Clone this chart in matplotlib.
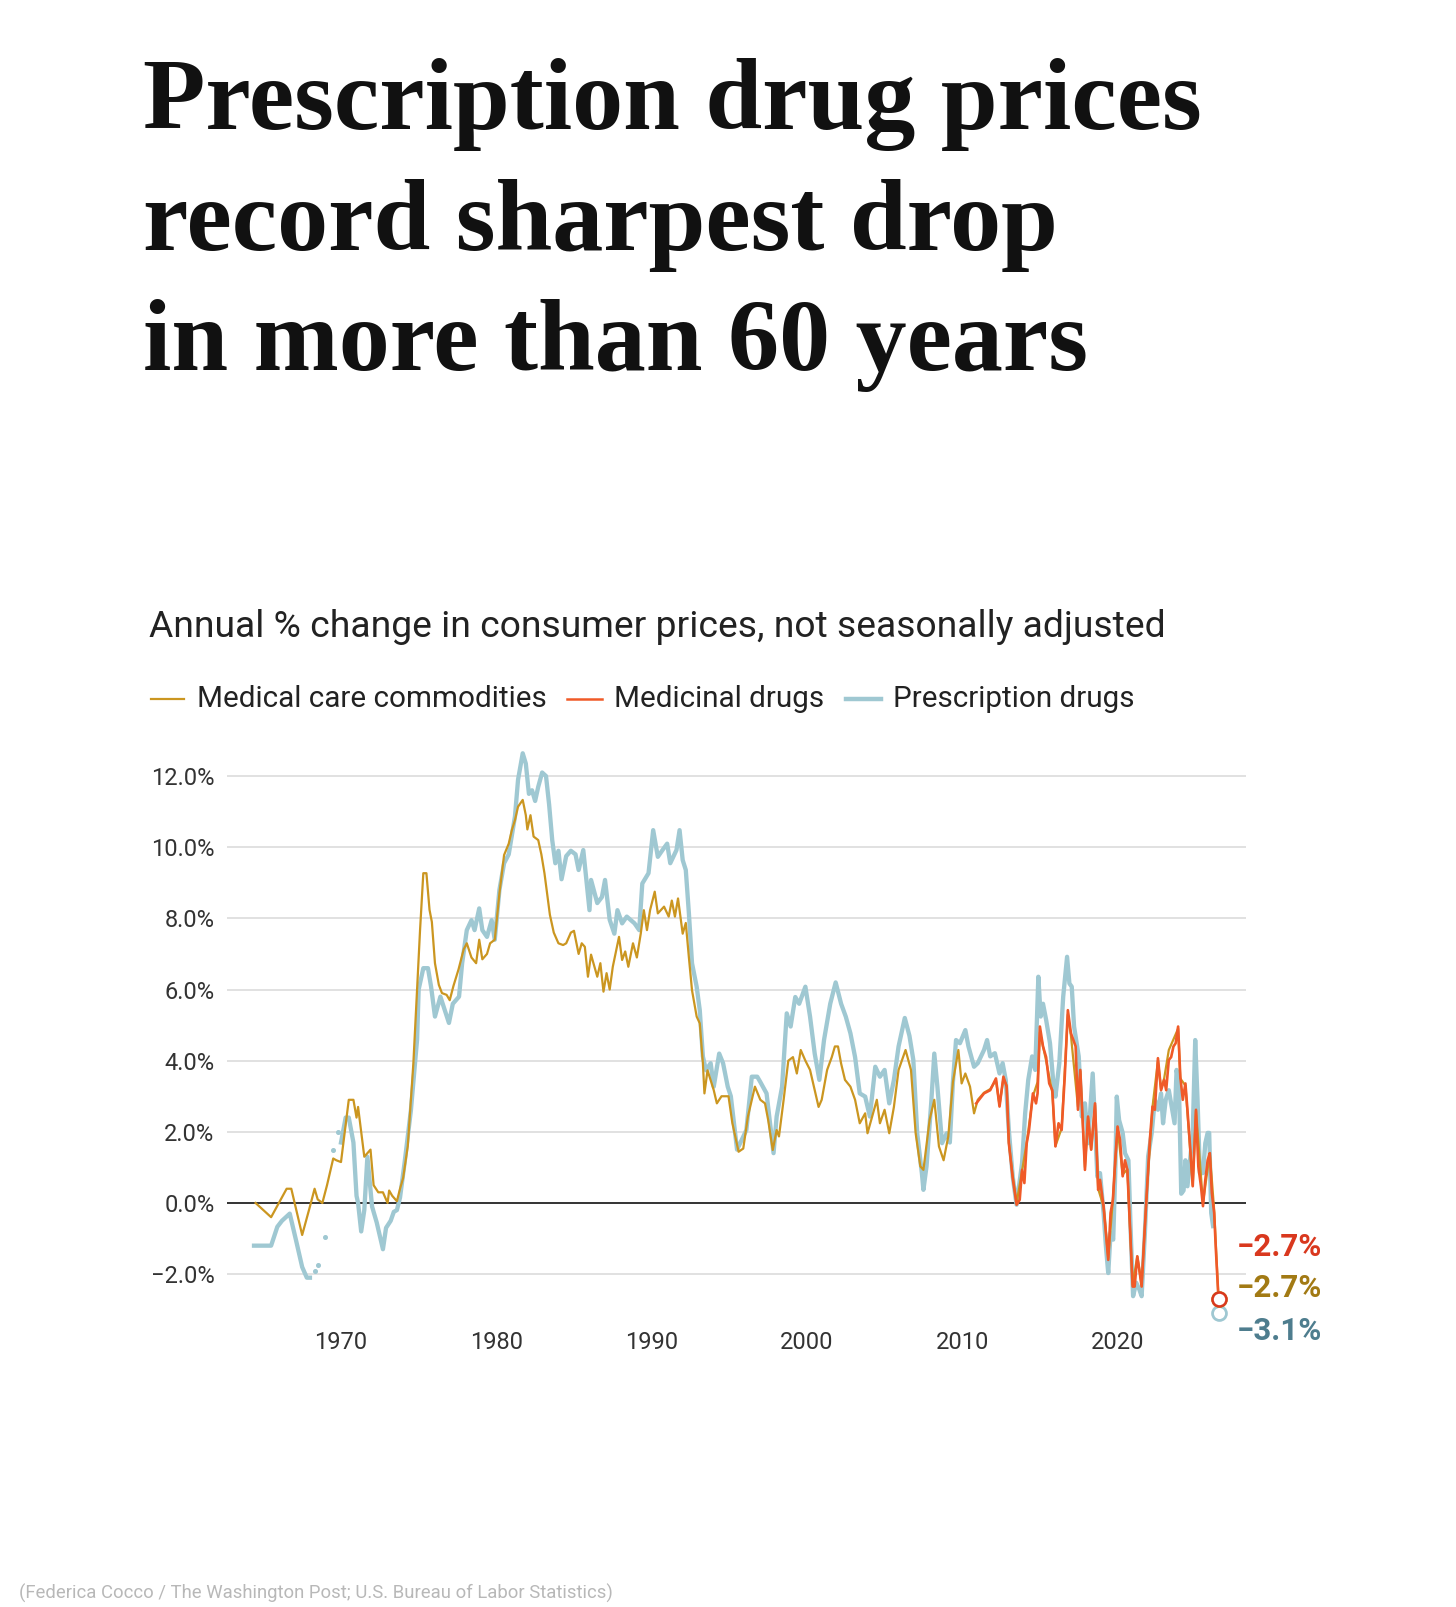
import numpy as np
import matplotlib
matplotlib.use("Agg")
import matplotlib.pyplot as plt
from matplotlib.lines import Line2D

# ---------------- data ----------------
rx_years = [1964.4, 1965.5, 1965.9, 1966.2, 1966.7, 1967.1, 1967.5, 1967.8, 1968.0, np.nan,
            1968.3, np.nan, 1968.5, np.nan, 1969.0, np.nan, 1969.5, np.nan, 1969.8, np.nan,
            1970.0, 1970.3, 1970.5, 1970.8, 1971.0, 1971.1, 1971.3, 1971.5, 1971.7, 1972.0,
            1972.3, 1972.7, 1972.9, 1973.2, 1973.4, 1973.6, 1973.8, 1974.1, 1974.5, 1974.9,
            1975.0, 1975.3, 1975.6, 1975.8, 1976.05, 1976.4, 1976.7, 1976.95, 1977.2, 1977.6,
            1977.8, 1978.1, 1978.4, 1978.6, 1978.9, 1979.1, 1979.4, 1979.7, 1979.9, 1980.2,
            1980.5, 1980.8, 1981.2, 1981.4, 1981.7, 1981.9, 1982.1, 1982.3, 1982.5, 1982.7,
            1982.95, 1983.2, 1983.4, 1983.6, 1983.8, 1984.0, 1984.2, 1984.5, 1984.8, 1985.1,
            1985.3, 1985.6, 1986.0, 1986.1, 1986.5, 1986.8, 1987.0, 1987.3, 1987.6, 1987.8,
            1988.1, 1988.4, 1988.9, 1989.2, 1989.4, 1989.8, 1990.1, 1990.4, 1990.7, 1991.0,
            1991.2, 1991.6, 1991.8, 1992.0, 1992.2, 1992.4, 1992.6, 1992.9, 1993.1, 1993.3,
            1993.5, 1993.8, 1994.0, 1994.35, 1994.6, 1994.9, 1995.1, 1995.5, 1995.7, 1996.1,
            1996.45, 1996.8, 1997.0, 1997.4, 1997.85, 1998.05, 1998.4, 1998.7, 1998.95, 1999.25,
            1999.5, 1999.9, 2000.2, 2000.5, 2000.8, 2001.1, 2001.5, 2001.85, 2002.2, 2002.5,
            2002.8, 2003.1, 2003.4, 2003.75, 2004.05, 2004.4, 2004.7, 2005.0, 2005.3, 2005.6,
            2005.9, 2006.3, 2006.6, 2006.85, 2007.1, 2007.4, 2007.5, 2007.7, 2008.0, 2008.2,
            2008.4, 2008.7, 2009.0, 2009.2, 2009.4, 2009.6, 2009.85, 2010.2, 2010.4, 2010.76,
            2011.0, 2011.4, 2011.6, 2011.8, 2012.1, 2012.4, 2012.6, 2012.8, 2013.0, 2013.25,
            2013.5, 2013.85, 2014.05, 2014.25, 2014.5, 2014.7, 2014.9, 2015.05, 2015.2, 2015.4,
            2015.65, 2015.85, 2016.0, 2016.25, 2016.5, 2016.75, 2016.9, 2017.05, 2017.2, 2017.5,
            2017.7, 2017.9, 2018.1, 2018.4, 2018.7, 2018.87, 2019.1, 2019.25, 2019.4, 2019.55,
            2019.72, 2019.85, 2019.95, 2020.1, 2020.33, 2020.48, 2020.7, 2020.85, 2021.0, 2021.2,
            2021.4, 2021.55, 2021.76, 2021.97, 2022.2, 2022.4, 2022.6, 2022.8, 2022.93, 2023.1,
            2023.3, 2023.45, 2023.67, 2023.8, 2023.95, 2024.1, 2024.25, 2024.37, 2024.5, 2024.67,
            2024.84, 2025.0, 2025.15, 2025.3, 2025.5, 2025.65, 2025.8, 2025.9, 2026.03, 2026.15,
            np.nan, 2026.5]
rx_values = [-1.2, -1.2, -0.67, -0.5, -0.3, -1.04, -1.8, -2.1, -2.1, np.nan,
             -1.9, np.nan, -1.75, np.nan, -0.95, np.nan, 1.5, np.nan, 2.0, np.nan,
             1.7, 2.4, 2.4, 1.7, 0.2, 0.0, -0.8, -0.2, 1.3, -0.1,
             -0.55, -1.3, -0.7, -0.5, -0.25, -0.2, 0.15, 1.15, 2.6, 4.6,
             6.0, 6.6, 6.6, 6.08, 5.24, 5.8, 5.4, 5.06, 5.6, 5.8,
             6.74, 7.67, 7.95, 7.67, 8.28, 7.67, 7.48, 7.95, 7.4, 8.8,
             9.55, 9.8, 10.86, 11.9, 12.64, 12.35, 11.5, 11.6, 11.3, 11.7,
             12.1, 12.0, 11.2, 10.2, 9.55, 9.9, 9.1, 9.75, 9.9, 9.8,
             9.36, 9.92, 8.23, 9.08, 8.43, 8.6, 9.08, 7.96, 7.57, 8.23,
             7.86, 8.05, 7.86, 7.67, 8.98, 9.27, 10.48, 9.73, 9.92, 10.1,
             9.55, 9.92, 10.48, 9.64, 9.36, 8.14, 6.74, 6.08, 5.42, 4.12,
             3.73, 3.93, 3.27, 4.2, 3.93, 3.27, 3.0, 1.5, 1.68, 2.05,
             3.55, 3.55, 3.4, 3.08, 1.4, 2.43, 3.27, 5.33, 4.96, 5.79,
             5.6, 6.08, 5.24, 4.2, 3.46, 4.58, 5.6, 6.2, 5.6, 5.24,
             4.77, 4.1, 3.08, 2.99, 2.43, 3.83, 3.55, 3.74, 2.8, 3.46,
             4.4, 5.2, 4.7, 4.02, 1.96, 0.84, 0.37, 1.03, 2.8, 4.2,
             3.27, 1.68, 1.96, 1.7, 3.4, 4.58, 4.49, 4.86, 4.4, 3.83,
             3.93, 4.3, 4.58, 4.12, 4.21, 3.64, 3.93, 3.46, 2.05, 0.74,
             -0.05, 1.12, 2.52, 3.46, 4.12, 3.74, 6.36, 5.24, 5.6, 5.15,
             4.49, 3.46, 2.99, 3.93, 5.8, 6.92, 6.17, 6.08, 4.96, 4.12,
             2.43, 2.8, 1.68, 3.64, 0.74, 0.84, -0.28, -1.22, -1.97, -0.84,
             -1.03, 0.84, 2.99, 2.33, 1.97, 1.4, 1.2, -0.84, -2.62, -2.24,
             -2.43, -2.62, -0.84, 1.31, 1.97, 2.9, 2.62, 3.08, 2.24, 2.9,
             3.17, 2.8, 2.24, 3.74, 3.36, 0.26, 0.35, 1.2, 0.47, 1.2,
             1.97, 4.58, 2.9, 0.84, 0.84, 1.68, 1.97, 1.97, -0.28, -0.65,
             np.nan, -3.1]

mcc_years = [1964.5, 1965.5, 1966.5, 1966.8, 1967.5, 1968.0, 1968.3, 1968.5, 1968.8, 1969.1,
             1969.5, 1969.7, 1970.0, 1970.5, 1970.8, 1971.0, 1971.1, 1971.5, 1971.9, 1972.1,
             1972.4, 1972.7, 1973.0, 1973.1, 1973.3, 1973.6, 1973.8, 1974.0, 1974.3, 1974.66,
             1975.09, 1975.3, 1975.5, 1975.7, 1975.85, 1976.05, 1976.3, 1976.5, 1976.8, 1977.0,
             1977.24, 1977.57, 1977.9, 1978.1, 1978.4, 1978.7, 1978.9, 1979.1, 1979.4, 1979.6,
             1979.9, 1980.2, 1980.5, 1980.8, 1981.0, 1981.2, 1981.4, 1981.7, 1981.9, 1982.0,
             1982.2, 1982.4, 1982.7, 1982.9, 1983.1, 1983.45, 1983.7, 1984.0, 1984.3, 1984.5,
             1984.8, 1985.0, 1985.3, 1985.5, 1985.7, 1985.9, 1986.1, 1986.5, 1986.7, 1986.9,
             1987.1, 1987.3, 1987.5, 1987.9, 1988.1, 1988.3, 1988.5, 1988.8, 1989.05, 1989.3,
             1989.5, 1989.7, 1989.9, 1990.2, 1990.4, 1990.8, 1991.1, 1991.3, 1991.5, 1991.7,
             1992.0, 1992.2, 1992.4, 1992.6, 1992.9, 1993.1, 1993.3, 1993.4, 1993.6, 1994.0,
             1994.2, 1994.5, 1994.95, 1995.2, 1995.6, 1995.9, 1996.2, 1996.65, 1997.0, 1997.3,
             1997.5, 1997.8, 1998.05, 1998.2, 1998.5, 1998.8, 1999.1, 1999.35, 1999.6, 1999.9,
             2000.2, 2000.4, 2000.75, 2000.95, 2001.3, 2001.6, 2001.8, 2002.0, 2002.2, 2002.45,
             2002.8, 2003.1, 2003.4, 2003.75, 2003.9, 2004.2, 2004.5, 2004.7, 2005.0, 2005.3,
             2005.6, 2005.9, 2006.35, 2006.7, 2007.0, 2007.3, 2007.5, 2007.9, 2008.2, 2008.5,
             2008.8, 2009.1, 2009.4, 2009.75, 2009.96, 2010.2, 2010.5, 2010.76, 2011.0, 2011.4,
             2011.8, 2012.17, 2012.4, 2012.65, 2012.86, 2013.0, 2013.25, 2013.5, 2013.85, 2014.15,
             2014.55, 2014.85, 2015.0, 2015.4, 2015.8, 2016.0, 2016.4, 2016.8, 2017.0, 2017.45,
             2017.6, 2017.9, 2018.1, 2018.3, 2018.55, 2018.75, 2019.1, 2019.4, 2019.7, 2020.0,
             2020.33, 2020.63, 2020.97, 2021.27, 2021.55, 2021.87, 2022.25, 2022.6, 2022.8, 2023.0,
             2023.3, 2023.6, 2023.9, 2024.04, 2024.37, 2024.84, 2025.05, 2025.5, 2025.94, 2026.22,
             2026.5]
mcc_values = [0.0, -0.4, 0.4, 0.4, -0.9, -0.1, 0.4, 0.1, 0.0, 0.5,
              1.25, 1.2, 1.15, 2.9, 2.9, 2.4, 2.7, 1.3, 1.5, 0.5,
              0.3, 0.3, 0.0, 0.35, 0.2, 0.05, 0.4, 0.7, 1.6, 3.93,
              7.67, 9.27, 9.27, 8.24, 7.9, 6.74, 6.13, 5.9, 5.85, 5.7,
              6.1, 6.57, 7.13, 7.3, 6.9, 6.74, 7.4, 6.85, 7.0, 7.3,
              7.4, 8.7, 9.78, 10.1, 10.48, 10.76, 11.14, 11.33, 10.9, 10.5,
              10.9, 10.3, 10.2, 9.8, 9.27, 8.1, 7.6, 7.3, 7.25, 7.3,
              7.6, 7.65, 7.0, 7.3, 7.2, 6.36, 6.98, 6.36, 6.74, 5.94,
              6.46, 6.0, 6.64, 7.48, 6.83, 7.07, 6.64, 7.3, 6.9, 7.57,
              8.23, 7.67, 8.23, 8.75, 8.14, 8.33, 8.05, 8.5, 8.05, 8.56,
              7.57, 7.87, 6.9, 5.98, 5.24, 5.05, 3.93, 3.08, 3.73, 3.17,
              2.8, 3.0, 3.0, 2.24, 1.44, 1.53, 2.43, 3.27, 2.9, 2.8,
              2.34, 1.49, 2.05, 1.87, 2.9, 4.0, 4.1, 3.64, 4.3, 4.0,
              3.74, 3.36, 2.7, 2.9, 3.74, 4.1, 4.4, 4.4, 3.92, 3.46,
              3.27, 2.9, 2.24, 2.52, 1.96, 2.43, 2.9, 2.24, 2.62, 1.96,
              2.7, 3.74, 4.3, 3.74, 1.96, 1.03, 0.93, 2.34, 2.9, 1.59,
              1.2, 1.87, 3.4, 4.3, 3.36, 3.64, 3.27, 2.52, 2.9, 3.1,
              3.2, 3.45, 2.75, 3.5, 3.3, 1.7, 0.75, 0.0, 0.9, 1.7,
              3.0, 3.4, 4.8, 4.0, 3.1, 1.6, 2.1, 5.3, 4.7, 2.7,
              3.7, 1.0, 2.4, 1.5, 2.75, 0.4, -0.1, -1.55, 0.1, 2.1,
              0.8, 0.95, -2.3, -1.5, -2.3, 0.2, 2.7, 4.0, 3.2, 3.5,
              4.3, 4.6, 4.9, 3.5, 3.3, 0.5, 2.6, 0.0, 1.4, -0.2,
              -2.7]

med_years = [2010.9, 2011.4, 2011.8, 2012.17, 2012.4, 2012.65, 2012.86, 2013.0, 2013.25, 2013.5,
             2013.7, 2013.85, 2014.0, 2014.15, 2014.3, 2014.55, 2014.75, 2014.85, 2015.0, 2015.2,
             2015.4, 2015.6, 2015.8, 2016.0, 2016.2, 2016.4, 2016.6, 2016.8, 2017.0, 2017.3,
             2017.45, 2017.6, 2017.9, 2018.1, 2018.3, 2018.55, 2018.75, 2018.87, 2019.1, 2019.25,
             2019.4, 2019.55, 2019.7, 2019.85, 2020.0, 2020.16, 2020.33, 2020.48, 2020.63, 2020.8,
             2020.97, 2021.1, 2021.27, 2021.4, 2021.55, 2021.7, 2021.87, 2022.08, 2022.25, 2022.4,
             2022.6, 2022.8, 2023.0, 2023.13, 2023.3, 2023.45, 2023.6, 2023.74, 2023.9, 2024.04,
             2024.2, 2024.37, 2024.5, 2024.67, 2024.84, 2025.05, 2025.2, 2025.37, 2025.5, 2025.65,
             2025.8, 2025.94, 2026.07, 2026.22, 2026.33, 2026.5]
med_values = [2.8, 3.08, 3.17, 3.5, 2.71, 3.55, 3.27, 1.68, 0.7, -0.05,
              0.09, 0.93, 0.56, 1.68, 2.05, 3.08, 2.8, 3.08, 4.96, 4.4,
              4.1, 3.36, 3.17, 1.59, 2.24, 2.05, 3.55, 5.42, 4.77, 4.4,
              2.62, 3.74, 0.93, 2.43, 1.5, 2.8, 0.37, 0.65, -0.09, -0.84,
              -1.6, -0.28, 0.09, 1.2, 2.15, 1.78, 0.75, 1.2, 0.93, -0.67,
              -2.35, -2.35, -1.5, -1.87, -2.35, -1.12, 0.19, 1.78, 2.71, 2.62,
              4.07, 3.17, 3.46, 3.17, 4.02, 4.1, 4.4, 4.49, 4.96, 3.55,
              2.9, 3.36, 2.62, 1.59, 0.47, 2.62, 1.03, 0.47, -0.09, 0.65,
              1.2, 1.4, 0.28, -0.28, -1.31, -2.7]

series_names = ["Medical care commodities", "Medicinal drugs", "Prescription drugs"]
y_ticks = [-2, 0, 2, 4, 6, 8, 10, 12]
x_ticks = [1970, 1980, 1990, 2000, 2010, 2020]

# ---------------- style ----------------
C_GOLD = "#cb9620"
C_ORANGE = "#f05a28"
C_BLUE = "#9fc8d2"
C_LAB_RED = "#d9381e"
C_LAB_GOLD = "#a27a14"
C_LAB_BLUE = "#4e7d8e"
SANS = ["Roboto", "DejaVu Sans"]
SERIF = ["Liberation Serif", "DejaVu Serif"]

W, H = 1456, 1607
fig = plt.figure(figsize=(W / 100, H / 100), dpi=100)
fig.patch.set_facecolor("white")

def fx(px):
    return px / W

def fy(py):
    return 1 - py / H

# title
title_lines = ["Prescription drug prices", "record sharpest drop", "in more than 60 years"]
for line, base in zip(title_lines, [129, 250, 370]):
    fig.text(fx(143), fy(base), line, family=SERIF, weight="bold", fontsize=73.5,
             va="baseline", ha="left", color="#111111")

fig.text(fx(149), fy(637), "Annual % change in consumer prices, not seasonally adjusted",
         family=SANS, fontsize=26.8, va="baseline", ha="left", color="#222222")

# legend
leg_y = fy(699)
for (x0, x1, tx), name, col, lw in zip([(151, 184, 197), (567, 602, 614), (846, 881, 893)],
                                        series_names, [C_GOLD, C_ORANGE, C_BLUE], [1.6, 1.8, 3.2]):
    fig.add_artist(Line2D([fx(x0), fx(x1)], [leg_y, leg_y], color=col, lw=lw,
                          transform=fig.transFigure))
    fig.text(fx(tx), leg_y, name, family=SANS, fontsize=21.3, va="center", ha="left",
             color="#222222")

# axes
left, right = 227, 1246
top, bottom = 740.5, 1309.7
ax = fig.add_axes([fx(left), fy(bottom), (right - left) / W, (bottom - top) / H])
ax.set_xlim(1962.66, 2028.27)
ax.set_ylim(-3, 13)
for s in ax.spines.values():
    s.set_visible(False)
ax.set_facecolor("none")

for yt in y_ticks:
    if yt == 0:
        ax.axhline(0, color="#333333", lw=1.4, zorder=1)
    else:
        ax.axhline(yt, color="#dedede", lw=1.3, zorder=0)

ax.set_yticks(y_ticks)
ax.set_yticklabels([("\u2212" if v < 0 else "") + f"{abs(v):.1f}%" for v in y_ticks])
ax.set_xticks(x_ticks)
ax.set_xticklabels([str(v) for v in x_ticks])
ax.tick_params(axis="both", length=0, labelsize=17, labelcolor="#333333")
ax.tick_params(axis="y", pad=9)
ax.tick_params(axis="x", pad=15)
for lab in ax.get_xticklabels() + ax.get_yticklabels():
    lab.set_family(SANS)

rx_x = np.array(rx_years, dtype=float)
rx_y = np.array(rx_values, dtype=float)
ax.plot(rx_x, rx_y, color=C_BLUE, lw=3.1, zorder=2, solid_joinstyle="round", clip_on=False)
# isolated points (neighbours missing) shown as dots
iso = []
for i in range(len(rx_y)):
    if np.isnan(rx_y[i]):
        continue
    prev_nan = i == 0 or np.isnan(rx_y[i - 1])
    next_nan = i == len(rx_y) - 1 or np.isnan(rx_y[i + 1])
    if prev_nan and next_nan and i != len(rx_y) - 1:
        iso.append(i)
ax.plot(rx_x[iso], rx_y[iso], ls="none", marker="o", ms=2.6, color=C_BLUE, zorder=2)

ax.plot(mcc_years, mcc_values, color=C_GOLD, lw=1.6, zorder=3, clip_on=False)
ax.plot(med_years, med_values, color=C_ORANGE, lw=1.9, zorder=4, clip_on=False)

# end markers
ax.plot([rx_x[-1]], [rx_y[-1]], marker="o", ms=10, mfc="white", mec=C_BLUE, mew=2,
        zorder=5, clip_on=False)
ax.plot([mcc_years[-1]], [mcc_values[-1]], marker="o", ms=10, mfc="white", mec=C_GOLD, mew=2,
        zorder=5, clip_on=False)
ax.plot([med_years[-1]], [med_values[-1]], marker="o", ms=10, mfc="white", mec=C_LAB_RED,
        mew=1.8, zorder=6, clip_on=False)

# end labels
def fmt(v):
    return ("\u2212" if v < 0 else "") + f"{abs(v):.1f}%"

for val, col, py in [(med_values[-1], C_LAB_RED, 1247), (mcc_values[-1], C_LAB_GOLD, 1288),
                     (rx_values[-1], C_LAB_BLUE, 1331)]:
    fig.text(fx(1237), fy(py), fmt(val), family=SANS, weight="bold", fontsize=22.5,
             va="center", ha="left", color=col)

fig.text(fx(19), fy(1593), "(Federica Cocco / The Washington Post; U.S. Bureau of Labor Statistics)",
         family=SANS, fontsize=13.3, va="center", ha="left", color="#b8b8b8")

fig.savefig("out.png", dpi=100, facecolor="white")
